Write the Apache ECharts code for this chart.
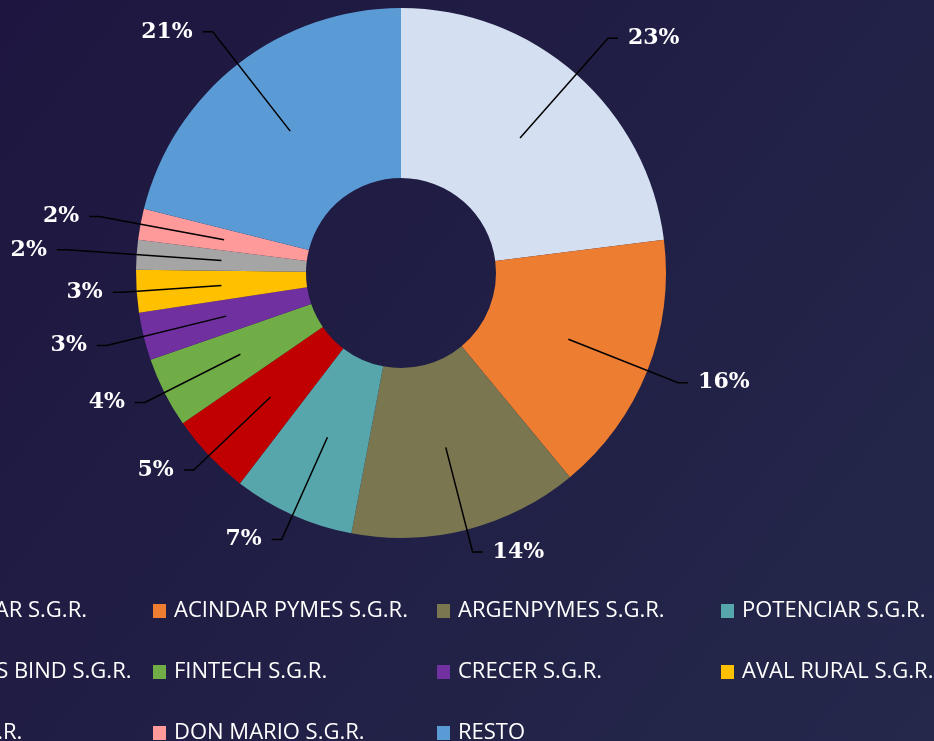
<!DOCTYPE html>
<html>
<head>
<meta charset="utf-8">
<script src="https://cdn.jsdelivr.net/npm/echarts@6/dist/echarts.min.js"></script>
<style>
  html, body { margin: 0; padding: 0; }
  #chart { width: 934px; height: 741px; }
</style>
</head>
<body>
<div id="chart"></div>
<script>
const names = [
  'GARANTIZAR S.G.R.', 'ACINDAR PYMES S.G.R.', 'ARGENPYMES S.G.R.', 'POTENCIAR S.G.R.',
  'GARANTIAS BIND S.G.R.', 'FINTECH S.G.R.', 'CRECER S.G.R.', 'AVAL RURAL S.G.R.',
  'MOVIL S.G.R.', 'DON MARIO S.G.R.', 'RESTO'
];
const shares = [23.0, 16.0, 14.0, 7.4, 5.0, 4.3, 2.9, 2.6, 1.8, 1.9, 21.1];
const colors = [
  '#d4dff1', '#ed7d31', '#7a7650', '#57a6ab', '#c00000', '#70ad47',
  '#7030a0', '#ffc000', '#a5a5a5', '#ff9a9a', '#5b9bd5'
];
// leader line length for each label (style only)
const leaderLen = [133, 118, 108, 112, 106, 107, 123, 99, 155, 127, 126];

const chart = echarts.init(document.getElementById('chart'));

function legendRow(rowNames, top) {
  return {
    data: rowNames,
    orient: 'horizontal',
    left: -131,
    top: top,
    width: 1150,
    padding: 0,
    itemWidth: 13,
    itemHeight: 14,
    itemGap: 8,
    icon: 'rect',
    selectedMode: false,
    textStyle: {
      color: '#ffffff',
      fontFamily: 'Open Sans',
      fontSize: 22,
      width: 255,
      lineHeight: 14,
      padding: [0, 0, 0, 3]
    }
  };
}

chart.setOption({
  backgroundColor: {
    type: 'linear', x: 0, y: 0, x2: 1, y2: 1,
    colorStops: [
      { offset: 0, color: '#1e1640' },
      { offset: 1, color: '#24284b' }
    ]
  },
  legend: [
    legendRow(names.slice(0, 4), 600),
    legendRow(names.slice(4, 8), 661),
    legendRow(names.slice(8), 722)
  ],
  series: [
    {
      type: 'pie',
      center: [401, 273],
      radius: [95, 265],
      startAngle: 90,
      clockwise: true,
      data: names.map((n, i) => ({ name: n, value: shares[i], itemStyle: { color: colors[i] } })),
      label: { show: false },
      labelLine: { show: false },
      silent: true
    },
    {
      // invisible copy so the leader lines start in the middle of the ring
      type: 'pie',
      center: [401, 273],
      radius: [0, 180],
      startAngle: 90,
      clockwise: true,
      percentPrecision: 0,
      silent: true,
      z: 3,
      data: names.map((n, i) => ({ name: n, value: shares[i], labelLine: { length: leaderLen[i] } })),
      itemStyle: { color: 'rgba(0,0,0,0)' },
      label: {
        show: true,
        position: 'outside',
        formatter: '{d}%',
        color: '#ffffff',
        fontFamily: 'DejaVu Serif',
        fontWeight: 'bold',
        fontSize: 22,
        distanceToLabelLine: 10
      },
      labelLine: {
        show: true,
        length: 112,
        length2: 10,
        lineStyle: { color: '#000000', width: 1.5 }
      }
    }
  ]
});

window.addEventListener('resize', () => chart.resize());
</script>
</body>
</html>
